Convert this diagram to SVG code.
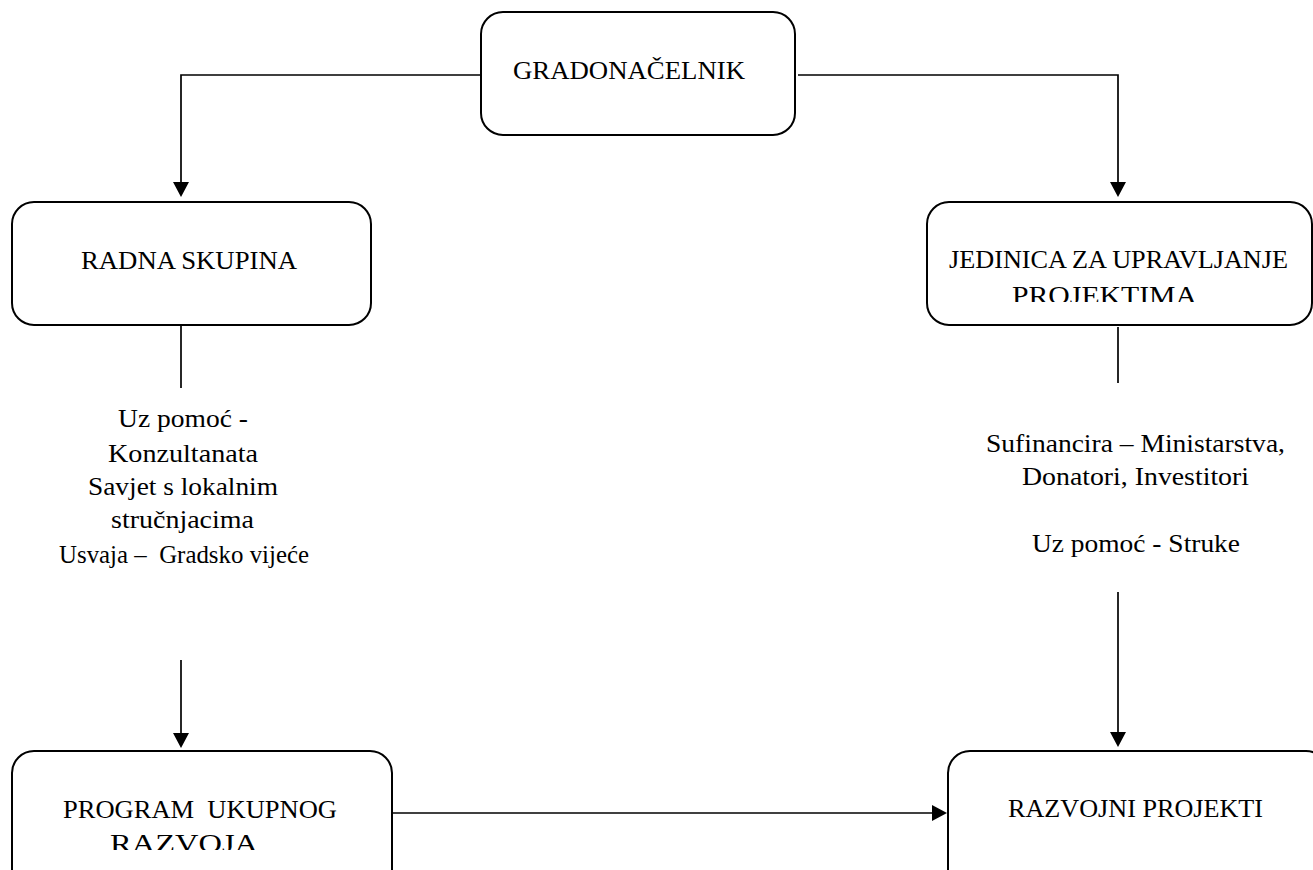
<svg xmlns="http://www.w3.org/2000/svg" width="1313" height="870" viewBox="0 0 1313 870">
<style>
.box{fill:#fff;stroke:#000;stroke-width:2}
.t{font-family:"Liberation Serif","Times New Roman",serif;font-size:26px;fill:#000;text-anchor:start}
.ln{stroke:#000;stroke-width:1.7;fill:none}
</style>
<defs>
<clipPath id="c1"><rect x="927" y="200" width="386" height="102"/></clipPath>
<clipPath id="c2"><rect x="12" y="750" width="380" height="100"/></clipPath>
</defs>
<g id="connectors">
<path class="ln" d="M480,75 H181 V182"/>
<path class="ln" d="M798,75 H1118 V182"/>
<path d="M173,182 L189,182 L181,197 Z" fill="#000"/>
<path d="M1110,182 L1126,182 L1118,197 Z" fill="#000"/>
<path class="ln" d="M181,326 V388"/>
<path class="ln" d="M181,660 V733"/>
<path d="M173,733 L189,733 L181,748 Z" fill="#000"/>
<path class="ln" d="M1118,327 V383"/>
<path class="ln" d="M1118,592 V732"/>
<path d="M1110,732 L1126,732 L1118,747 Z" fill="#000"/>
<path class="ln" d="M393,813 H932"/>
<path d="M932,805 L947,813 L932,821 Z" fill="#000"/>
</g>
<g id="n-gradonacelnik">
<rect class="box" x="481" y="12" width="314" height="123" rx="22"/>
<text class="t" x="513" y="79" textLength="232" lengthAdjust="spacingAndGlyphs">GRADONAČELNIK</text>
</g>
<g id="n-radna">
<rect class="box" x="12" y="202" width="359" height="123" rx="22"/>
<text class="t" x="81" y="269" textLength="216" lengthAdjust="spacingAndGlyphs">RADNA SKUPINA</text>
</g>
<g id="n-jedinica">
<rect class="box" x="927" y="202" width="385" height="123" rx="22"/>
<g clip-path="url(#c1)">
<text class="t" x="949" y="268" textLength="339" lengthAdjust="spacingAndGlyphs">JEDINICA ZA UPRAVLJANJE</text>
<text class="t" x="1012" y="304" textLength="185" lengthAdjust="spacingAndGlyphs">PROJEKTIMA</text>
</g>
</g>
<g id="n-program">
<rect class="box" x="12" y="751" width="380" height="140" rx="22"/>
<g clip-path="url(#c2)">
<text class="t" x="63" y="818" textLength="274" lengthAdjust="spacingAndGlyphs" xml:space="preserve">PROGRAM  UKUPNOG</text>
<text class="t" x="110" y="852" textLength="148" lengthAdjust="spacingAndGlyphs">RAZVOJA</text>
</g>
</g>
<g id="n-projekti">
<rect class="box" x="948" y="751" width="380" height="140" rx="22"/>
<text class="t" x="1008" y="817" textLength="255" lengthAdjust="spacingAndGlyphs">RAZVOJNI PROJEKTI</text>
</g>
<g id="label-left">
<text class="t" x="118" y="427" textLength="130" lengthAdjust="spacingAndGlyphs">Uz pomoć -</text>
<text class="t" x="108" y="462" textLength="150" lengthAdjust="spacingAndGlyphs">Konzultanata</text>
<text class="t" x="88" y="495" textLength="190" lengthAdjust="spacingAndGlyphs">Savjet s lokalnim</text>
<text class="t" x="111" y="528" textLength="143" lengthAdjust="spacingAndGlyphs">stručnjacima</text>
<text class="t" x="59" y="563" textLength="250" lengthAdjust="spacingAndGlyphs" xml:space="preserve">Usvaja –  Gradsko vijeće</text>
</g>
<g id="label-right">
<text class="t" x="986" y="452" textLength="299" lengthAdjust="spacingAndGlyphs">Sufinancira – Ministarstva,</text>
<text class="t" x="1022" y="485" textLength="227" lengthAdjust="spacingAndGlyphs">Donatori, Investitori</text>
<text class="t" x="1032" y="552" textLength="208" lengthAdjust="spacingAndGlyphs">Uz pomoć - Struke</text>
</g>
</svg>
